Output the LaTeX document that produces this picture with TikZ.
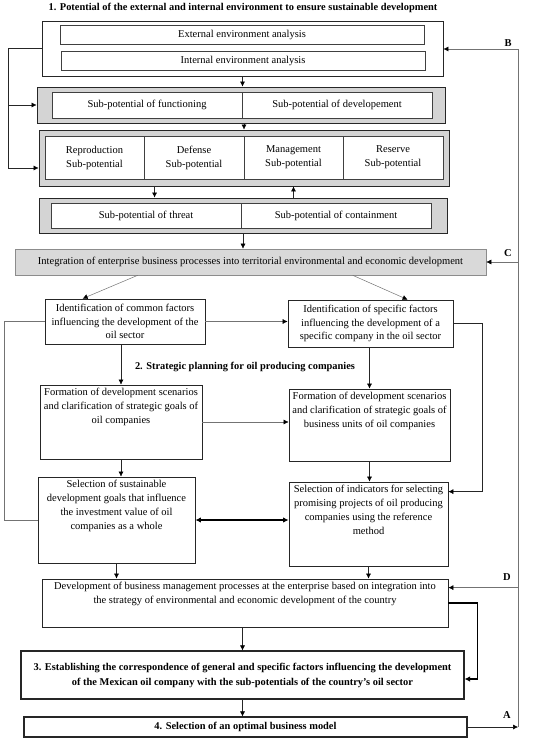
\documentclass[tikz,border=0pt]{standalone}
\usepackage{fontspec}
\setmainfont{Liberation Serif}
\usetikzlibrary{calc}
\usetikzlibrary{arrows.meta}

\newcommand{\topcell}[3]{\parbox[c][#1][t]{#2}{\centering #3}}

\begin{document}
\begin{tikzpicture}[x=1pt,y=-1pt,
    every node/.style={font=\fontsize{10.5}{14}\selectfont},
    framebox/.style={rectangle, draw=black!85, line width=0.9pt, inner sep=0pt},
    cellbox/.style={rectangle, draw=black!75, fill=white, line width=0.5pt, inner sep=0pt, align=center},
    graybox/.style={rectangle, draw=black!85, fill=black!17, line width=0.9pt, inner sep=0pt},
    intbox/.style={rectangle, draw=black!45, fill=black!15, line width=0.6pt, inner sep=0pt},
    stepbox/.style={rectangle, draw=black!85, line width=0.8pt, inner sep=1pt, align=center},
    topbox/.style={rectangle, draw=black!85, line width=0.8pt, inner sep=3pt},
    titletext/.style={font=\bfseries\fontsize{10.4}{14}\selectfont},
    letter/.style={font=\bfseries\fontsize{10.5}{12}\selectfont},
    arr/.style={-{Latex[length=5pt,width=5pt,color=black]}, line width=0.5pt, draw=black!85},
    thinarr/.style={arr, draw=black!55},
    thinline/.style={line width=0.5pt, draw=black!55},
    heavyarr/.style={-{Latex[length=5.5pt,width=5.5pt]}, line width=1.1pt}
    ]
  \useasboundingbox (0,0) rectangle (550,743);
  % nodes
  \node[titletext] (title1) at (243,8) {1. Potential of the external and internal environment to ensure sustainable development};
  \node[framebox, minimum width=401pt, minimum height=55pt] (env) at (242.5,48.5) {};
  \node[cellbox, minimum width=364pt, minimum height=19pt] (extA) at (242,34.5) {External environment analysis};
  \node[cellbox, minimum width=364pt, minimum height=19pt] (intA) at (243,60.5) {Internal environment analysis};

  \node[graybox, minimum width=408pt, minimum height=36pt] (funcbar) at (241,105) {};
  \node[cellbox, minimum width=190pt, minimum height=26pt] (func) at (147,105) {Sub-potential of functioning};
  \node[cellbox, minimum width=190pt, minimum height=26pt] (devp) at (337,105) {Sub-potential of developement};

  \node[graybox, minimum width=410pt, minimum height=56pt] (subbar) at (244,158) {};
  \foreach \x/\name/\txt in {94.5/repr/Reproduction, 194/defn/Defense, 293.5/mgmt/Management, 393/resv/Reserve}
    \node[cellbox, minimum width=99.5pt, minimum height=43pt] (\name) at (\x,157.5) {\txt\\Sub-potential};

  \node[graybox, minimum width=408pt, minimum height=35pt] (threatbar) at (243,215.5) {};
  \node[cellbox, minimum width=190pt, minimum height=25pt] (threat) at (146,215.5) {Sub-potential of threat};
  \node[cellbox, minimum width=190pt, minimum height=25pt] (contn) at (336,215.5) {Sub-potential of containment};

  \node[intbox, minimum width=471pt, minimum height=26pt] (integ) at (250.5,262) {Integration of enterprise business processes into territorial environmental and economic development};

  \node[stepbox, font=\fontsize{10.5}{13.5}\selectfont, minimum width=160pt, minimum height=45pt] (common) at (125,321.5) {Identification of common factors\\influencing the development of the\\oil sector};
  \node[stepbox, font=\fontsize{10.5}{13.5}\selectfont, minimum width=165pt, minimum height=47pt] (specific) at (370.5,323.5) {Identification of specific factors\\influencing the development of a\\specific company in the oil sector};

  \node[titletext] (title2) at (245,367) {2. Strategic planning for oil producing companies};

  \node[topbox] (form1) at (121,422) {\topcell{68pt}{156pt}{Formation of development scenarios\\and clarification of strategic goals of\\oil companies}};
  \node[topbox] (form2) at (369.5,425) {\topcell{66pt}{155pt}{Formation of development scenarios\\and clarification of strategic goals of\\business units of oil companies}};
  \node[topbox] (sust) at (116.5,520) {\topcell{80pt}{151pt}{Selection of sustainable\\development goals that influence\\the investment value of oil\\companies as a whole}};
  \node[topbox] (indic) at (368.5,524) {\topcell{78pt}{153pt}{Selection of indicators for selecting\\promising projects of oil producing\\companies using the reference\\method}};

  \node[topbox] (devel) at (245,603) {\topcell{42pt}{400pt}{Development of business management processes at the enterprise based on integration into\\the strategy of environmental and economic development of the country}};
  \node[stepbox, line width=1.1pt, font=\bfseries\fontsize{10.4}{15}\selectfont, minimum width=443pt, minimum height=48pt] (estab) at (242.5,675) {3. Establishing the correspondence of general and specific factors influencing the development\\of the Mexican oil company with the sub-potentials of the country's oil sector};
  \node[stepbox, line width=1.1pt, font=\bfseries\fontsize{10.4}{14}\selectfont, minimum width=443pt, minimum height=20pt, inner sep=0pt] (select) at (245.5,727) {4. Selection of an optimal business model};

  % letters
  \node[letter] (labB) at (508,43) {B};
  \node[letter] (labC) at (508,253) {C};
  \node[letter] (labD) at (507,577) {D};
  \node[letter] (labA) at (507,715) {A};

  \coordinate (rail) at (518,49);
  \coordinate (loopL) at (8,0);
  \coordinate (dIn) at ($(devel.north east)+(0,9)$);

  % arrows
  \draw[arr] (env.south) -- (env.south |- funcbar.north);
  \draw[arr] (funcbar.south -| defn.east) -- (defn.east |- subbar.north);
  \draw[arr] ($(subbar.south west)+(116,0)$) -- ($(threatbar.north west)+(116,0)$);
  \draw[arr] (threatbar.north -| mgmt.center) -- (mgmt.center |- subbar.south);
  \draw[arr] (threatbar.south) -- (threatbar.south |- integ.north);
  \draw[arr] (env.west) -- (env.west -| loopL) |- ($(subbar.west)+(0,10)$);
  \draw[arr] (funcbar.west -| loopL) -- (funcbar.west);

  \draw[thinarr] ($(integ.south west)+(123,0)$) -- ($(common.north west)+(38,0)$);
  \draw[thinarr] ($(integ.south west)+(338,0)$) -- ($(specific.north west)+(120,0)$);
  \draw[thinarr] (common.east) -- (common.east -| specific.west);
  \draw[thinline] (common.west) -- ++(-40,0) |- (sust.west);
  \draw[arr] (specific.east) -- ++(29,0) |- ($(indic.north east)+(0,10)$);

  \draw[arr] (common.south -| form1.north) -- (form1.north);
  \draw[arr] (specific.south -| form2.north) -- (form2.north);
  \draw[thinarr] (form1.east) -- (form1.east -| form2.west);
  \draw[arr] (form1.south) -- (form1.south |- sust.north);
  \draw[arr] (form2.south) -- (form2.south |- indic.north);
  \draw[{Latex[length=5.5pt,width=5.5pt]}-{Latex[length=5.5pt,width=5.5pt]}, line width=1.1pt] (sust.east) -- (sust.east -| indic.west);
  \draw[arr] (sust.south) -- (sust.south |- devel.north);
  \draw[arr] (indic.south) -- (indic.south |- devel.north);

  \draw[arr] (estab.north |- devel.south) -- (estab.north);
  \draw[heavyarr] (devel.east) -- ++(29,0) |- ($(estab.east)+(0,4)$);
  \draw[arr] (estab.south) -- (estab.south |- select.north);

  \draw[arr] (select.east) -- (select.east -| rail);
  \draw[thinline] (select.east -| rail) -- (rail);
  \draw[thinarr] (rail) -- (env.east |- rail);
  \draw[thinarr] (integ.east -| rail) -- (integ.east);
  \draw[thinarr] (dIn -| rail) -- (dIn);
\end{tikzpicture}
\end{document}
